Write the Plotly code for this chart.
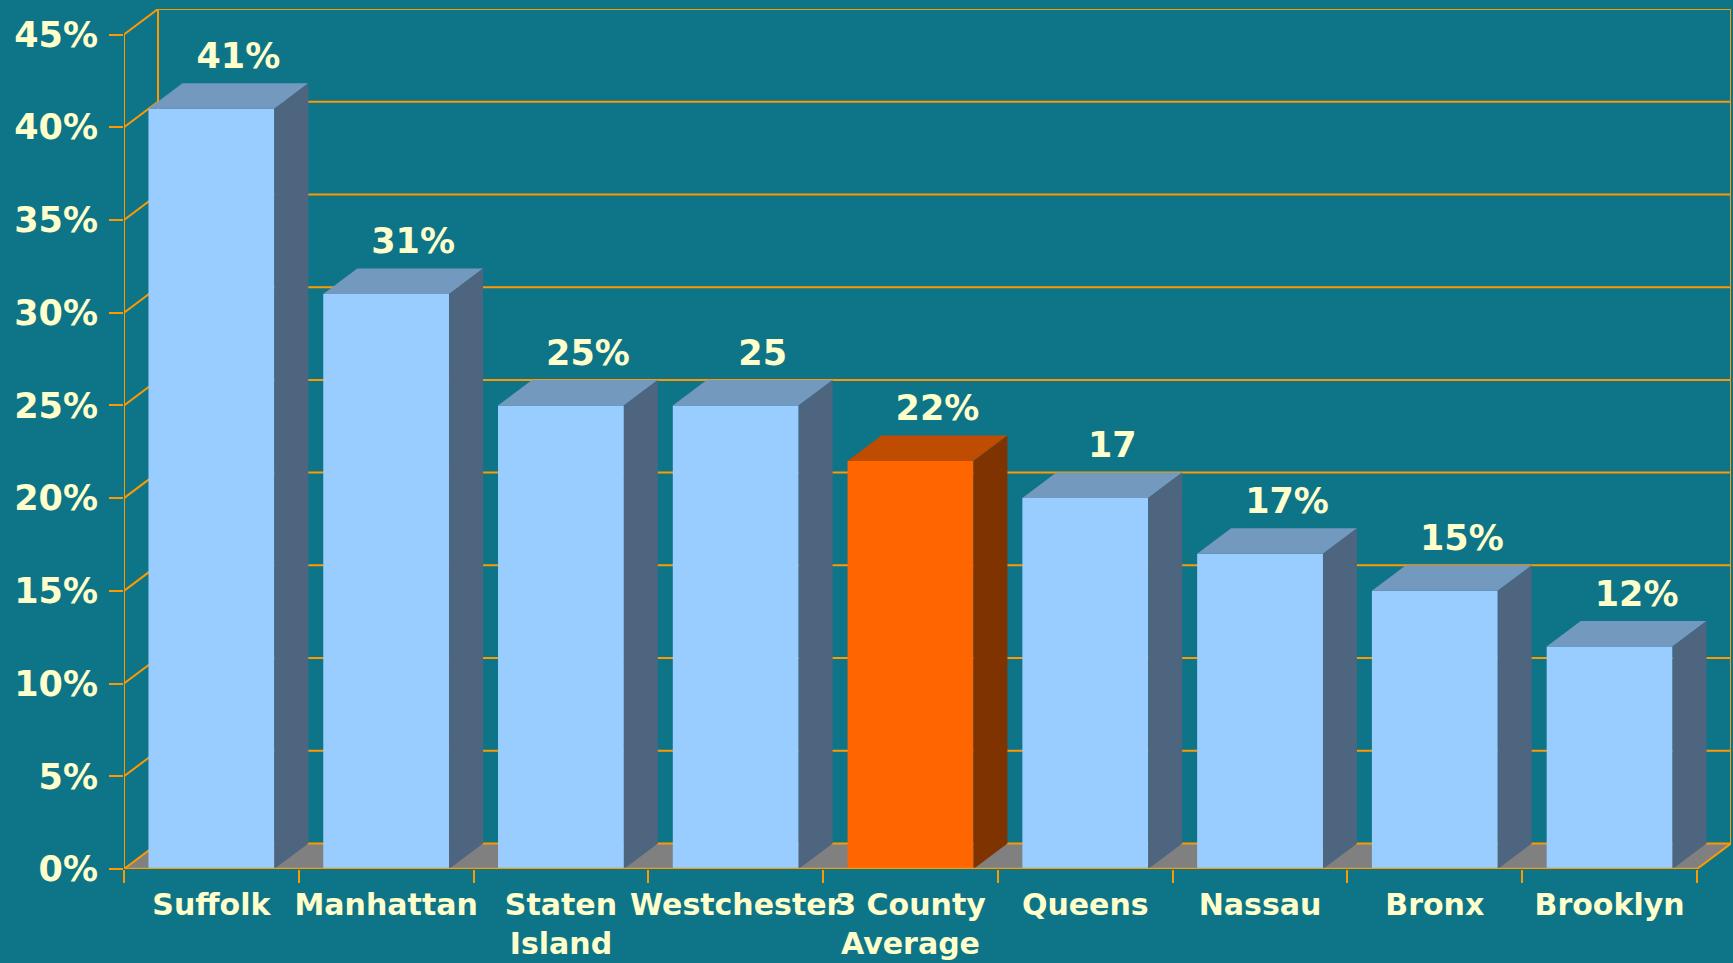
import plotly.graph_objects as go

# ---------------- data ----------------
categories = ["Suffolk", "Manhattan", "Staten<br>Island", "Westchester", "3 County<br>Average",
              "Queens", "Nassau", "Bronx", "Brooklyn"]
values = [41, 31, 25, 25, 22, 20, 17, 15, 12]
value_labels = ["41%", "31%", "25%", "25", "22%", "17", "17%", "15%", "12%"]
highlighted = ["3 County<br>Average"]
y_ticks = [0, 5, 10, 15, 20, 25, 30, 35, 40, 45]
y_tick_labels = ["0%", "5%", "10%", "15%", "20%", "25%", "30%", "35%", "40%", "45%"]

# ---------------- style / geometry ----------------
W, H = 1733, 963
ML, MR, MT, MB = 124, 2, 9, 94
PLOT_W, PLOT_H = W - ML - MR, H - MT - MB
DX_PX, DY_PX = 34, 25.5          # depth offset of the pseudo-3D look
n = len(categories)
x_per = (PLOT_W - DX_PX) / n
YMAX = y_ticks[-1]
y_per = (PLOT_H - DY_PX) / YMAX
dxu = DX_PX / x_per
dyu = DY_PX / y_per
BAR_W = 0.72

BG = "#0E7589"
ORANGE = "#FF9900"
TXT = "#FFFFCC"
FLOOR = "#808080"
BLUE = dict(front="#99CCFF", top="#7399BF", side="#4E6580")
HIGH = dict(front="#FF6600", top="#BF4C00", side="#7F3300")
FONT = "DejaVu Sans"

x0, x1 = -0.5, n - 0.5
fig = go.Figure()


def poly(xs, ys, color, xaxis="x"):
    fig.add_trace(go.Scatter(x=xs + [xs[0]], y=ys + [ys[0]], fill="toself", fillcolor=color,
                             mode="lines", line=dict(width=0, color=color), hoverinfo="skip",
                             showlegend=False, xaxis=xaxis))


def lines(xs, ys, width=2, xaxis="x"):
    fig.add_trace(go.Scatter(x=xs, y=ys, mode="lines", line=dict(color=ORANGE, width=width),
                             hoverinfo="skip", showlegend=False, cliponaxis=False, xaxis=xaxis))


# floor
poly([x0, x1, x1 + dxu, x0 + dxu], [0, 0, dyu, dyu], FLOOR)

# back wall grid lines + left wall diagonals
gx, gy = [], []
for v in y_ticks:
    gx += [x0, x0 + dxu, x1 + dxu, None]
    gy += [v, v + dyu, v + dyu, None]
# back wall verticals
gx += [x0 + dxu, x0 + dxu, None, x1 + dxu, x1 + dxu, None]
gy += [dyu, YMAX + dyu, None, dyu, YMAX + dyu, None]
lines(gx, gy)

# bars
for i, (cat, v) in enumerate(zip(categories, values)):
    c = HIGH if cat in highlighted else BLUE
    l, r = i - BAR_W / 2, i + BAR_W / 2
    poly([l, r, r, l], [0, 0, v, v], c["front"])
    poly([l, r, r + dxu, l + dxu], [v, v, v + dyu, v + dyu], c["top"])
    poly([r, r + dxu, r + dxu, r], [0, dyu, v + dyu, v], c["side"])

# front axis lines (left vertical, floor front edge, floor right diagonal)
lines([x0, x0, None, x1, x1 + dxu], [YMAX, 0, None, 0, dyu])
lines([x0, x1], [0, 0], width=2.5, xaxis="x2")

# value labels
LBL_DX = (DX_PX / 2 + 10) / x_per
LBL_DY = 24 / y_per
fig.add_trace(go.Scatter(
    x=[i + LBL_DX for i in range(n)],
    y=[v + dyu + LBL_DY for v in values],
    text=value_labels, mode="text", textposition="middle center",
    textfont=dict(family=FONT, size=35, color=TXT, weight="bold"),
    hoverinfo="skip", showlegend=False, cliponaxis=False))

xr = [x0, x1 + dxu]
fig.update_layout(
    width=W, height=H,
    margin=dict(l=ML, r=MR, t=MT, b=MB, autoexpand=False),
    paper_bgcolor=BG, plot_bgcolor=BG,
    showlegend=False,
    xaxis=dict(range=xr, tickmode="array", tickvals=list(range(n)), ticktext=categories,
               ticks="", showgrid=False, zeroline=False, showline=False, tickangle=0,
               automargin=False,
               tickfont=dict(family=FONT, size=30, color=TXT, weight="bold"),
               ticklabelstandoff=15, fixedrange=True),
    xaxis2=dict(range=xr, overlaying="x", side="bottom", tickmode="array",
                tickvals=[i - 0.5 for i in range(n + 1)], ticks="outside", ticklen=13,
                tickwidth=2, tickcolor=ORANGE, showticklabels=False, showgrid=False,
                zeroline=False, showline=False, fixedrange=True, automargin=False),
    yaxis=dict(range=[0, YMAX + dyu], tickmode="array", tickvals=y_ticks, ticktext=y_tick_labels,
               ticks="outside", ticklen=14, tickwidth=2, tickcolor=ORANGE,
               showgrid=False, zeroline=False, showline=False, automargin=False,
               tickfont=dict(family=FONT, size=35, color=TXT, weight="bold"),
               ticklabelstandoff=4, fixedrange=True),
)

fig.write_html(
    "out.html",
    config={"displayModeBar": False},
    post_script="document.body.style.margin='0';document.body.style.background='" + BG + "';"
                "document.body.style.overflow='hidden';",
)
